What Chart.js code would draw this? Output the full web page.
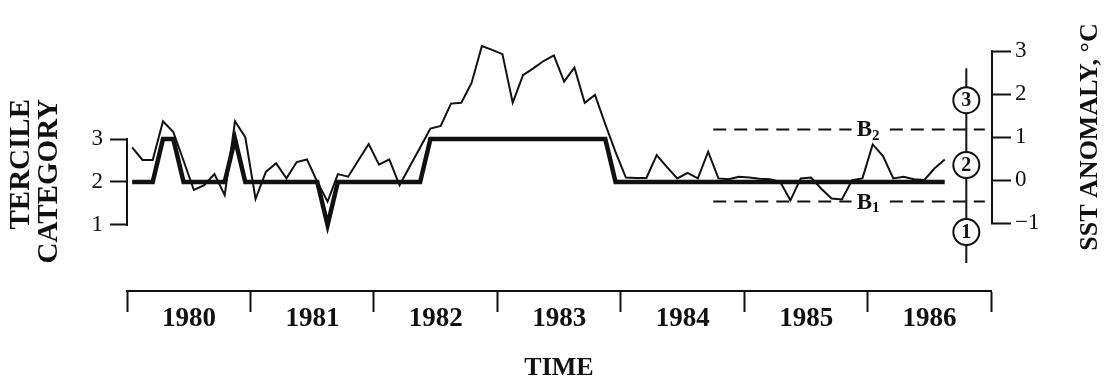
<!DOCTYPE html>
<html lang="en">
<head>
<meta charset="UTF-8">
<title>Tercile category and SST anomaly</title>
<style>
  html, body { margin: 0; padding: 0; background: #fff; }
  .chart-box { width: 1104px; height: 381px; }
</style>
</head>
<body>
<div class="chart-box"><canvas id="mychart"></canvas></div>
<script src="https://cdn.jsdelivr.net/npm/chart.js@4.4.1/dist/chart.umd.min.js"></script>
<script>
// monthly values, Jan 1980 .. Aug 1986
const startYear = 1980;
const years = [1980, 1981, 1982, 1983, 1984, 1985, 1986];
const sstAnomaly = [
  0.76, 0.47, 0.47, 1.37, 1.12, 0.45, -0.23, -0.12, 0.14, -0.35, 1.37, 1.0,
  -0.44, 0.19, 0.39, 0.04, 0.42, 0.48, -0.04, -0.5, 0.14, 0.08, 0.46, 0.84,
  0.36, 0.48, -0.12, 0.32, 0.76, 1.2, 1.26, 1.78, 1.8, 2.26, 3.12, 3.03,
  2.93, 1.8, 2.44, 2.6, 2.77, 2.9, 2.29, 2.62, 1.8, 1.98, 1.3, 0.65,
  0.06, 0.05, 0.05, 0.58, 0.3, 0.04, 0.17, 0.04, 0.66, 0.04, 0.02, 0.08,
  0.06, 0.03, 0.02, -0.04, -0.47, 0.04, 0.06, -0.2, -0.43, -0.45, 0, 0.04,
  0.83, 0.56, 0.04, 0.08, 0.02, 0, 0.27, 0.48
];
const tercile = [
  2, 2, 2, 3, 3, 2, 2, 2, 2, 2, 3, 2,
  2, 2, 2, 2, 2, 2, 2, 1, 2, 2, 2, 2,
  2, 2, 2, 2, 2, 3, 3, 3, 3, 3, 3, 3,
  3, 3, 3, 3, 3, 3, 3, 3, 3, 3, 3, 2,
  2, 2, 2, 2, 2, 2, 2, 2, 2, 2, 2, 2,
  2, 2, 2, 2, 2, 2, 2, 2, 2, 2, 2, 2,
  2, 2, 2, 2, 2, 2, 2, 2
];
const tercileTicks = [1, 2, 3];
const sstTicks = [-1, 0, 1, 2, 3];
// class boundaries B1 / B2 (deg C) and the span over which they are shown
const boundB1 = -0.5;
const boundB2 = 1.18;
const boundFrom = 1984.75;
const boundTo = 1986.95;
const boundGap = [1985.87, 1986.18];
const boundLabelAt = 1986.02;

const SERIF = '"Liberation Serif", "DejaVu Serif", serif';
const INK = '#111';

// month index -> decimal year (middle of month)
const monthX = i => startYear + (i + 0.5) / 12;
const sstPts = sstAnomaly.map((v, i) => ({x: monthX(i), y: v}));
const terPts = tercile.map((v, i) => ({x: monthX(i), y: v}));

function boundLine(y) {
  return [
    {x: boundFrom, y: y}, {x: boundGap[0], y: y},
    {x: (boundGap[0] + boundGap[1]) / 2, y: null},
    {x: boundGap[1], y: y}, {x: boundTo, y: y}
  ];
}

// fixed axis sizes, no extra padding for tick labels
function fixSize(w, h) {
  return s => {
    if (w) s.width = w;
    if (h) s.height = h;
    s.paddingTop = 0; s.paddingBottom = 0;
    s.paddingLeft = 0; s.paddingRight = 0;
  };
}

const extras = {
  id: 'extras',
  afterDraw(chart) {
    const ctx = chart.ctx;
    const xs = chart.scales.x, yl = chart.scales.yL, yr = chart.scales.yR;
    ctx.save();
    ctx.strokeStyle = INK;
    ctx.fillStyle = INK;
    ctx.lineWidth = 2;

    // bracket lines of the two vertical axes
    const lx = chart.chartArea.left;
    ctx.beginPath();
    ctx.moveTo(lx, yl.getPixelForValue(3) - 1);
    ctx.lineTo(lx, yl.getPixelForValue(1) + 1);
    const rx = chart.chartArea.right + 1;
    ctx.moveTo(rx, yr.getPixelForValue(3) - 1);
    ctx.lineTo(rx, yr.getPixelForValue(-1) + 1);
    ctx.stroke();

    // B1 / B2 labels
    const bx = xs.getPixelForValue(boundLabelAt);
    [['2', boundB2], ['1', boundB1]].forEach(([sub, v]) => {
      const y = yr.getPixelForValue(v);
      ctx.font = 'bold 23px ' + SERIF;
      ctx.textAlign = 'right';
      ctx.textBaseline = 'middle';
      ctx.fillText('B', bx + 2, y + 1);
      ctx.font = 'bold 15px ' + SERIF;
      ctx.textAlign = 'left';
      ctx.fillText(sub, bx + 2, y + 7);
    });

    // category scale with circled numbers
    const cx = xs.getPixelForValue(1986.8);
    ctx.lineWidth = 2;
    ctx.beginPath();
    ctx.moveTo(cx, yr.getPixelForValue(2.6));
    ctx.lineTo(cx, yr.getPixelForValue(-1.93));
    ctx.stroke();
    [['3', 1.86], ['2', 0.35], ['1', -1.21]].forEach(([t, v]) => {
      const cy = yr.getPixelForValue(v);
      ctx.beginPath();
      ctx.arc(cx, cy, 13, 0, Math.PI * 2);
      ctx.fillStyle = '#fff';
      ctx.fill();
      ctx.stroke();
      ctx.fillStyle = INK;
      ctx.font = 'bold 20px ' + SERIF;
      ctx.textAlign = 'center';
      ctx.textBaseline = 'middle';
      ctx.fillText(t, cx, cy + 1);
    });

    // axis titles (both read bottom to top)
    ctx.font = 'bold 29px ' + SERIF;
    ctx.textBaseline = 'middle';
    ctx.save();
    ctx.translate(22, 99);
    ctx.rotate(-Math.PI / 2);
    ctx.textAlign = 'right';
    ctx.fillText('TERCILE', 0, 0);
    ctx.restore();
    ctx.save();
    ctx.translate(50, 99);
    ctx.rotate(-Math.PI / 2);
    ctx.textAlign = 'right';
    ctx.fillText('CATEGORY', 0, 0);
    ctx.restore();

    ctx.font = 'bold 26px ' + SERIF;
    ctx.save();
    ctx.translate(1090, 137);
    ctx.rotate(-Math.PI / 2);
    ctx.textAlign = 'center';
    ctx.fillText('SST ANOMALY, °C', 0, 0);
    ctx.restore();

    ctx.restore();
  }
};

new Chart(document.getElementById('mychart'), {
  type: 'line',
  data: {
    datasets: [
      {
        label: 'Tercile category',
        data: terPts,
        yAxisID: 'yL',
        borderColor: INK,
        borderWidth: 4.5,
        pointRadius: 0,
        tension: 0
      },
      {
        label: 'SST anomaly',
        data: sstPts,
        yAxisID: 'yR',
        borderColor: INK,
        borderWidth: 2,
        pointRadius: 0,
        tension: 0
      },
      {
        label: 'B2',
        data: boundLine(boundB2),
        yAxisID: 'yR',
        borderColor: INK,
        borderWidth: 2,
        borderDash: [13, 8],
        pointRadius: 0,
        spanGaps: false
      },
      {
        label: 'B1',
        data: boundLine(boundB1),
        yAxisID: 'yR',
        borderColor: INK,
        borderWidth: 2,
        borderDash: [13, 8],
        pointRadius: 0,
        spanGaps: false
      }
    ]
  },
  options: {
    responsive: true,
    maintainAspectRatio: false,
    animation: false,
    layout: { padding: 0 },
    plugins: {
      legend: { display: false },
      tooltip: { enabled: false }
    },
    scales: {
      x: {
        type: 'linear',
        position: 'bottom',
        min: 1980,
        max: 1987,
        afterFit: fixSize(0, 90),
        afterBuildTicks: s => {
          s.ticks = years.concat([1987]).map(v => ({value: v}));
        },
        grid: {
          drawOnChartArea: false,
          drawTicks: true,
          tickLength: 21,
          tickWidth: 2,
          color: INK
        },
        border: { display: true, color: INK, width: 2 },
        ticks: {
          autoSkip: false,
          maxRotation: 0,
          labelOffset: 62,
          padding: -9,
          color: INK,
          font: { family: SERIF, size: 27, weight: 'bold' },
          callback: v => (years.includes(v) ? String(v) : '')
        },
        title: {
          display: true,
          text: 'TIME',
          color: INK,
          font: { family: SERIF, size: 26, weight: 'bold', lineHeight: 1 },
          padding: { top: 0, bottom: 0 }
        }
      },
      yL: {
        type: 'linear',
        position: 'left',
        min: -0.536,
        max: 6.234,
        afterFit: fixSize(127, 0),
        afterBuildTicks: s => { s.ticks = tercileTicks.map(v => ({value: v})); },
        grid: {
          drawOnChartArea: false,
          tickLength: 17,
          tickWidth: 2,
          color: INK
        },
        border: { display: false },
        ticks: {
          padding: 7,
          color: INK,
          font: { family: SERIF, size: 23 },
          callback: v => String(v)
        }
      },
      yR: {
        type: 'linear',
        position: 'right',
        min: -2.58,
        max: 4.19,
        afterFit: fixSize(113, 0),
        afterBuildTicks: s => { s.ticks = sstTicks.map(v => ({value: v})); },
        grid: {
          drawOnChartArea: false,
          tickLength: 20,
          tickWidth: 2,
          color: INK
        },
        border: { display: false },
        ticks: {
          padding: 4,
          color: INK,
          font: { family: SERIF, size: 23 },
          callback: v => String(v).replace('-', '\u2212')
        }
      }
    }
  },
  plugins: [extras]
});
</script>
</body>
</html>
